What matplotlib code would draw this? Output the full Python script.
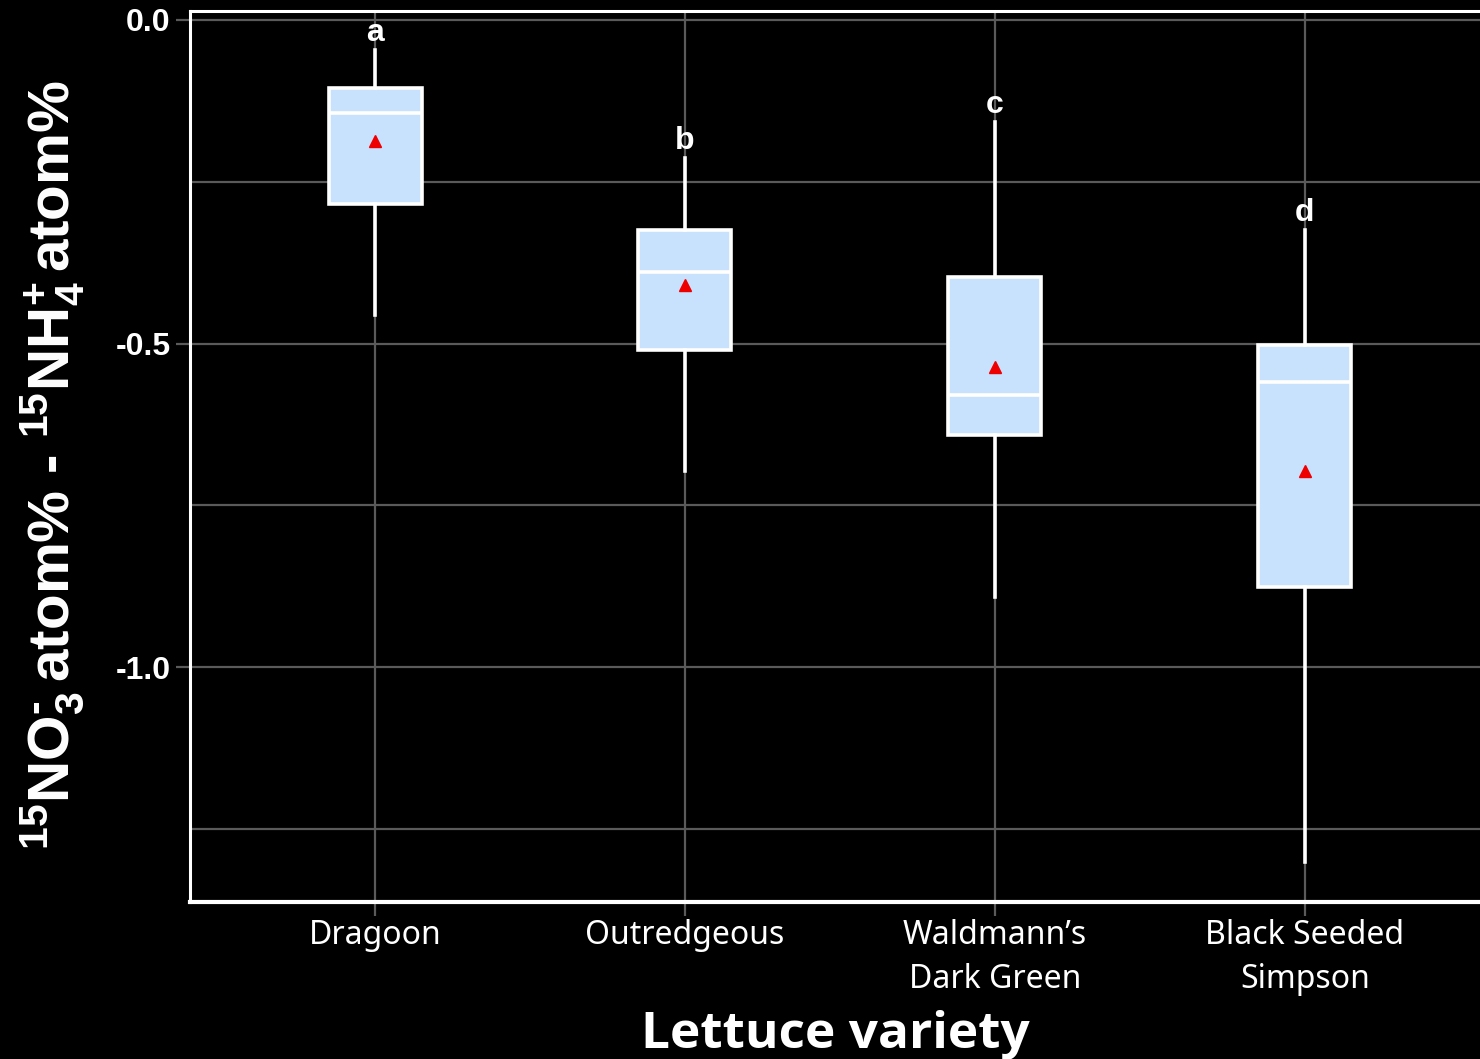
import matplotlib
matplotlib.use("Agg")
import matplotlib.pyplot as plt

# Lettuce varieties and their box-plot summaries
varieties = ["Dragoon", "Outredgeous", "Waldmann\u2019s\nDark Green", "Black Seeded\nSimpson"]
whisker_low = [-0.456, -0.697, -0.892, -1.301]
q1 = [-0.284, -0.510, -0.641, -0.876]
median = [-0.144, -0.389, -0.580, -0.560]
q3 = [-0.105, -0.325, -0.397, -0.502]
whisker_high = [-0.046, -0.213, -0.158, -0.325]
means = [-0.187, -0.410, -0.537, -0.697]
letters = ["a", "b", "c", "d"]

yticks = [0.0, -0.5, -1.0]
ytick_labels = ["0.0", "-0.5", "-1.0"]

plt.rcParams["mathtext.fontset"] = "custom"
plt.rcParams["mathtext.rm"] = "Liberation Sans:bold"
plt.rcParams["mathtext.it"] = "Liberation Sans:bold"
plt.rcParams["mathtext.bf"] = "Liberation Sans:bold"

fig = plt.figure(figsize=(14.8, 10.59), dpi=100, facecolor="black")
ax = fig.add_axes([190 / 1480, 157 / 1059, 1290 / 1480, 891 / 1059])
ax.set_facecolor("black")

positions = list(range(1, len(varieties) + 1))
stats = []
for i in range(len(varieties)):
    stats.append(dict(med=median[i], q1=q1[i], q3=q3[i],
                      whislo=whisker_low[i], whishi=whisker_high[i],
                      mean=means[i], fliers=[]))

ax.bxp(stats, positions=positions, widths=0.30, patch_artist=True,
       showmeans=True, showcaps=False, showfliers=False,
       boxprops=dict(facecolor="#c8e1fd", edgecolor="white", linewidth=2.6),
       medianprops=dict(color="white", linewidth=2.6),
       whiskerprops=dict(color="white", linewidth=2.6),
       meanprops=dict(marker="^", markerfacecolor="#ee0000",
                      markeredgecolor="#ee0000", markersize=9),
       zorder=3)

for x, top, lab in zip(positions, whisker_high, letters):
    ax.annotate(lab, xy=(x, top), xytext=(0, 1.5), textcoords="offset points",
                ha="center", va="bottom", color="white", fontsize=23,
                fontweight="bold", family="Liberation Sans")

ax.set_xlim(0.403, 4.565)
ax.set_ylim(-1.363, 0.0139)

ax.set_yticks(yticks)
ax.set_yticklabels(ytick_labels, color="white", fontsize=23,
                   fontweight="bold", family="Liberation Sans")
ax.set_yticks([-0.25, -0.75, -1.25], minor=True)
ax.set_xticks(positions)
ax.set_xticklabels(varieties, color="white", fontsize=23, family="Noto Sans",
                   linespacing=1.45)

ax.grid(True, which="both", color="#5a5a5a", linewidth=1.6, zorder=0)
ax.set_axisbelow(True)
ax.tick_params(axis="y", which="major", length=10, width=1.6, color="#5a5a5a", pad=4)
ax.tick_params(axis="y", which="minor", length=0)
ax.tick_params(axis="x", length=10, width=1.6, color="#5a5a5a", pad=2)

for side in ["left", "top", "bottom"]:
    ax.spines[side].set_color("white")
    ax.spines[side].set_linewidth(2.2)
ax.spines["bottom"].set_linewidth(3)
ax.spines["right"].set_visible(False)

ax.set_xlabel("Lettuce variety", color="white", fontsize=37,
              fontweight="bold", family="Open Sans", labelpad=10)
ax.set_ylabel(r"$^{15}$NO$_3^{\text{-}}\,$atom% - $^{15}$NH$_4^{\text{+}}\,$atom%",
              color="white", fontsize=42, fontweight="bold",
              family="Liberation Sans", labelpad=0)
ax.yaxis.set_label_coords(-104 / 1290, 0.49)

fig.savefig("out.png", dpi=100, facecolor="black")
